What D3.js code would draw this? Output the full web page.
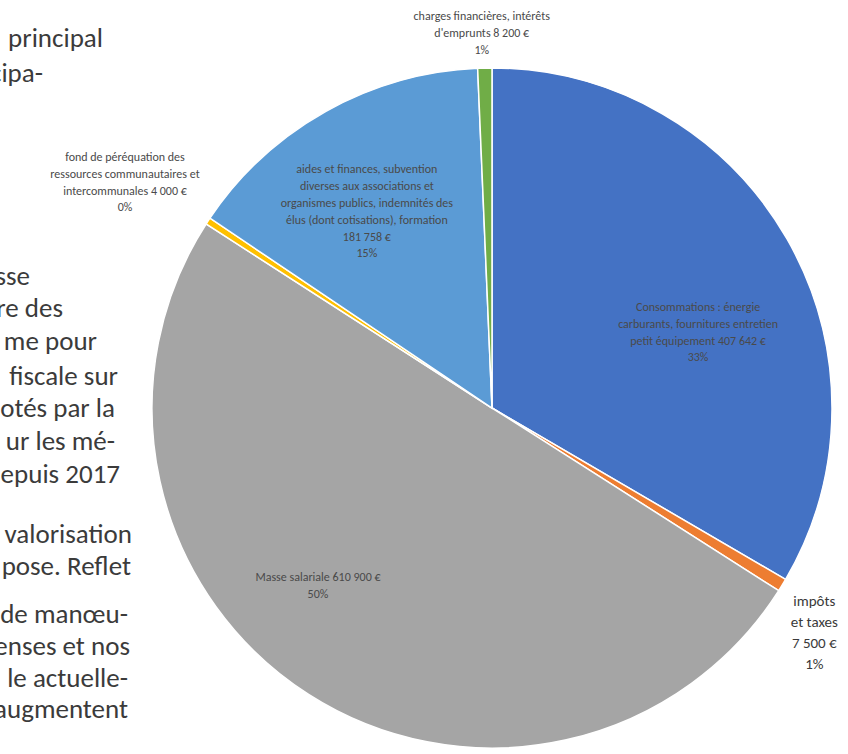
<!DOCTYPE html>
<html>
  <head>
    <meta charset="utf-8" />
    <script src="https://d3js.org/d3.v7.min.js"></script>
    <style>
      body { margin: 0; background: #fff; }
      svg text { font-family: Carlito, Calibri, Lato, sans-serif; }
    </style>
  </head>
  <body>
    <svg id="chart" width="848" height="754"></svg>
    <script>
      // postes de dépenses de fonctionnement (sens horaire depuis midi)
      const categories = [
        "Consommations : énergie\ncarburants, fournitures entretien\npetit équipement",
        "impôts\net taxes",
        "Masse salariale",
        "fond de péréquation des\nressources communautaires et\nintercommunales",
        "aides et finances, subvention\ndiverses aux associations et\norganismes publics, indemnités des\nélus (dont cotisations), formation",
        "charges financières, intérêts\nd'emprunts"
      ];
      const values = [407642, 7500, 610900, 4000, 181758, 8200];
      const colors = ["#4472C4", "#ED7D31", "#A5A5A5", "#FFC000", "#5B9BD5", "#70AD47"];

      // texte du document à gauche (coupé par le cadrage)
      const bodyLines = [
        "principal", "cipa-",
        "sse", "re des", "me pour", "fiscale sur", "otés par la", "ur les mé-", "epuis 2017",
        "valorisation", "pose. Reflet",
        "de manœu-", "enses et nos", "le actuelle-", "augmentent"
      ];
      const bodyEnd = [103, 43, 30, 63, 97, 118, 115, 115, 120, 132, 131, 128, 130, 128, 128];
      const bodyBase = [47, 82, 285, 317, 350, 385, 417, 450, 483, 543, 575, 623, 655, 687, 718];

      // mise en page des étiquettes (taille, position le long de la part, rayon relatif)
      const labelFont = [12, 15, 12, 12, 12, 12];
      const labelAlong = [0.58, 0.5, 0.566, 0.5, 0.44, 0.5];
      const labelRadius = [0.646, 0, 0.73, 0, 0.686, 0];

      const svg = d3.select("#chart");
      const cx = 492, cy = 408, R = 340;

      // texte du document
      svg.append("g")
        .selectAll("text")
        .data(bodyLines)
        .join("text")
        .attr("x", (d, i) => bodyEnd[i])
        .attr("y", (d, i) => bodyBase[i])
        .attr("text-anchor", "end")
        .attr("font-size", 27)
        .attr("fill", "#3b3b3b")
        .text(d => d);

      const fr = d3.formatLocale({ decimal: ",", thousands: "\u00a0", grouping: [3], currency: ["", " €"] });
      const money = fr.format(",.0f");
      const pctFmt = d3.format(".0%");
      const total = d3.sum(values);

      const data = categories.map((c, i) => ({ name: c, value: values[i], color: colors[i], i }));
      const pie = d3.pie().sort(null).value(d => d.value);
      const arc = d3.arc().innerRadius(0).outerRadius(R);
      const arcs = pie(data);

      const g = svg.append("g").attr("transform", `translate(${cx},${cy})`);

      g.selectAll("path")
        .data(arcs)
        .join("path")
        .attr("d", arc)
        .attr("fill", d => d.data.color)
        .attr("stroke", "#fff")
        .attr("stroke-width", 1.5);

      // étiquettes
      const labels = g.append("g");
      arcs.forEach(a => {
        const d = a.data;
        const fs = labelFont[d.i];
        const lh = fs * 1.4;
        const nameLines = d.name.split("\n");
        const t = labels.append("text")
          .attr("font-size", fs)
          .attr("fill", d.i === 1 ? "#3a3a3a" : "#4a4a4a")
          .attr("text-anchor", "middle");

        const measure = s => {
          const tmp = t.append("tspan").text(s);
          const w = tmp.node().getComputedTextLength();
          tmp.remove();
          return w;
        };
        const maxW = d3.max(nameLines, measure);
        let lines = nameLines.slice(0, -1);
        const last = nameLines[nameLines.length - 1] + " " + money(d.value) + " €";
        if (nameLines.length > 1 && measure(last) > maxW + 1) {
          let cur = "";
          last.split(" ").forEach(word => {
            const next = cur ? cur + " " + word : word;
            if (cur && measure(next) > maxW + 1) {
              lines.push(cur);
              cur = word;
            } else cur = next;
          });
          lines.push(cur);
        } else lines.push(last);
        lines.push(pctFmt(d.value / total));

        const w = d3.max(lines, measure);
        const h = lines.length * lh;
        const ang = a.startAngle + labelAlong[d.i] * (a.endAngle - a.startAngle);
        const ux = Math.sin(ang), uy = -Math.cos(ang);
        let px, py;
        if (d.value / total < 0.03) {
          // hors de la part : la boîte touche le bord du camembert
          const clamp = v => Math.max(-1, Math.min(1, v));
          px = (R + 10) * ux + (w / 2) * clamp(2 * ux);
          py = (R + 10) * uy + (h / 2) * clamp(2 * uy);
        } else {
          px = labelRadius[d.i] * R * ux;
          py = labelRadius[d.i] * R * uy;
        }
        const y0 = py - (lines.length - 1) * lh / 2 + fs * 0.35;
        lines.forEach((l, k) => {
          t.append("tspan").attr("x", px).attr("y", y0 + k * lh).text(l);
        });
      });
    </script>
  </body>
</html>
